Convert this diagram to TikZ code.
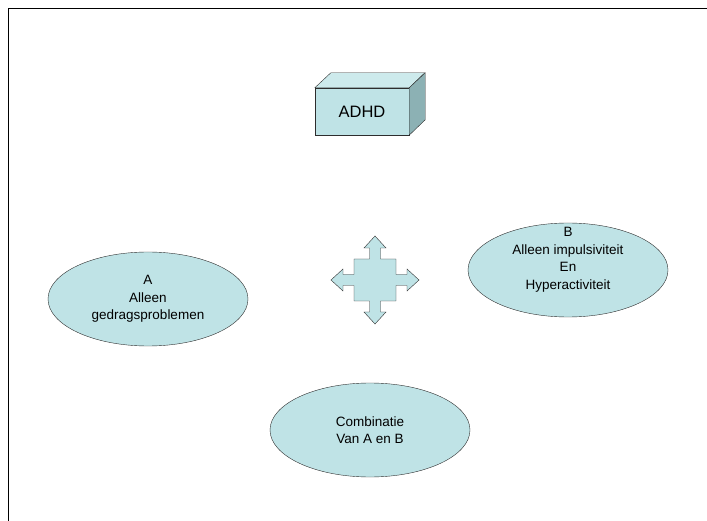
\documentclass[tikz,border=0pt]{standalone}
\usepackage{fontspec}
\setmainfont{Liberation Sans}
\usetikzlibrary{shapes.geometric}
\definecolor{lichtblauw}{RGB}{191,227,230}
\definecolor{bovenkant}{RGB}{205,234,236}
\definecolor{zijkant}{RGB}{140,177,180}
\definecolor{rand}{RGB}{45,45,45}

\begin{document}
\begin{tikzpicture}[x=1pt,y=-1pt,
    tekst/.style={align=center,font=\fontsize{13.5}{17.5}\selectfont},
    oval/.style={tekst,draw=rand,fill=lichtblauw,ellipse,minimum width=200pt,minimum height=94pt,inner sep=0pt},
    blok/.style={draw=rand,fill=lichtblauw,minimum width=94pt,minimum height=47pt,inner sep=0pt,font=\fontsize{16.5}{20}\selectfont}]
    \useasboundingbox (0,0) rectangle (707,521);
    % kader
    \draw [line width=1pt] (8,521) -- (8,9) -- (707,9);
    % blok ADHD
    \node (adhd) [blok] at (362,111.5) {ADHD};
    \draw [draw=rand,fill=bovenkant] (adhd.north west) -- ++(16,-15) -- ++(94,0) -- (adhd.north east) -- cycle;
    \draw [draw=rand,fill=zijkant] (adhd.north east) -- ++(16,-15) -- ++(0,47) -- (adhd.south east) -- cycle;
    % kruispijl
    \coordinate (kruis) at (375,280);
    \draw [draw=rand,fill=lichtblauw,shift={(kruis)}] (0,-44) -- (11,-32) -- (5.5,-32) -- (5.5,-21) -- (21,-21) -- (21,-5.5) -- (32,-5.5) -- (32,-11) -- (44,0) -- (32,11) -- (32,5.5) -- (21,5.5) -- (21,21) -- (5.5,21) -- (5.5,32) -- (11,32) -- (0,44) -- (-11,32) -- (-5.5,32) -- (-5.5,21) -- (-21,21) -- (-21,5.5) -- (-32,5.5) -- (-32,11) -- (-44,0) -- (-32,-11) -- (-32,-5.5) -- (-21,-5.5) -- (-21,-21) -- (-5.5,-21) -- (-5.5,-32) -- (-11,-32) -- cycle;
    % ovalen
    \node (ovalA) [oval] at (148,299) {A\\Alleen\\gedragsproblemen};
    \node (ovalB) [oval] at (568,270) {};
    \node (tekstB) [tekst] at (568,260) {B\\Alleen impulsiviteit\\En\\Hyperactiviteit};
    \node (ovalC) [oval] at (370,430) {Combinatie\\Van A en B};
\end{tikzpicture}
\end{document}
